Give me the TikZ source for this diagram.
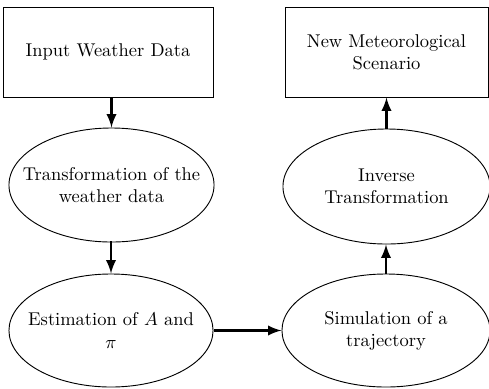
\documentclass[tikz,border=0pt]{standalone}
\usepackage{amsmath}
\usepackage{amssymb}
\usepackage{xcolor}
\usepackage{tikz}
\usetikzlibrary{shapes,arrows,positioning}
\tikzset{>=latex}

\begin{document}
\begin{tikzpicture}[x=0.019018cm, y=-0.019018cm,
                          mybox/.style={draw, black, line width=0.5pt, rectangle, inner sep=0pt, align=center},
                          myoval/.style={draw, black, line width=0.5pt, ellipse, inner sep=0pt},
                          ovaltext/.style={align=center, inner sep=0pt},
                          flow/.style={line width=1.5pt, black, ->},
                         ]

\useasboundingbox (0,0) rectangle (489,388);

\node[mybox, minimum width=3.994cm, minimum height=1.712cm] (input) at (108,52) {Input Weather Data};
\node[mybox, minimum width=3.861cm, minimum height=1.712cm] (scen) at (386.5,52) {New Meteorological\\Scenario};

\node[myoval, minimum width=3.899cm, minimum height=2.168cm,
      label={[ovaltext]center:Transformation of the\\weather data}] (trans) at (111.5,185) {};
\node[myoval, minimum width=3.880cm, minimum height=2.149cm,
      label={[ovaltext]center:Estimation of $A$ and\\$\pi$}] (est) at (111,330.5) {};

\node[myoval, minimum width=3.937cm, minimum height=2.187cm,
      label={[ovaltext]center:Inverse\\Transformation}] (inv) at (386.5,186.5) {};
\node[myoval, minimum width=3.956cm, minimum height=2.149cm,
      label={[ovaltext]center:Simulation of a\\trajectory}] (sim) at (386,330.5) {};

\draw[flow] (trans.north |- input.south) -- (trans.north);
\draw[flow] (trans.south) -- (est.north |- trans.south) -- (est.north);
\draw[flow] (est.east) -- (sim.west);
\draw[flow] (sim.north) -- (sim.north |- inv.south);
\draw[flow] (inv.north) -- (inv.north |- scen.south);

\end{tikzpicture}
\end{document}
